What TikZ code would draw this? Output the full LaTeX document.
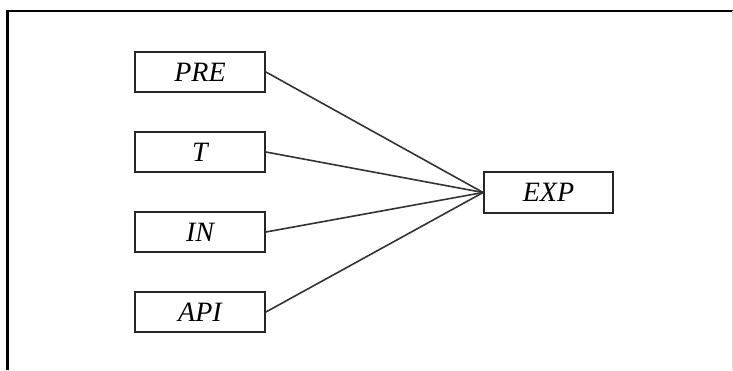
\documentclass[tikz,border=0pt]{standalone}
\usepackage{fontspec}
\setmainfont{Liberation Serif}[ItalicFont={Liberation Serif Italic},BoldItalicFont={Liberation Serif Bold Italic}]
\begin{document}
\begin{tikzpicture}[x=1pt,y=-1pt,
  varbox/.style={draw=black!85, line width=1.8pt, minimum width=130pt, minimum height=40pt, inner sep=0pt, font=\fontsize{28}{30}\selectfont\itshape},
  link/.style={draw=black!80, line width=1.6pt}]
\useasboundingbox (0,0) rectangle (733,370);
\draw[line width=2.4pt, black] (7.5,370) -- (7.5,11) -- (733,11);
\draw[line width=0.8pt, black!15] (732,11) -- (732,370);
\node[varbox] (pre) at (200,72) {PRE};
\node[varbox] (t) at (200,152) {T};
\node[varbox] (in) at (200,232) {IN};
\node[varbox] (api) at (200,312) {API};
\node[varbox, minimum width=129pt, minimum height=41pt] (exp) at (548.5,192.5) {EXP};
\draw[link] (pre.east) -- (exp.west);
\draw[link] (t.east) -- (exp.west);
\draw[link] (in.east) -- (exp.west);
\draw[link] (api.east) -- (exp.west);
\end{tikzpicture}
\end{document}
